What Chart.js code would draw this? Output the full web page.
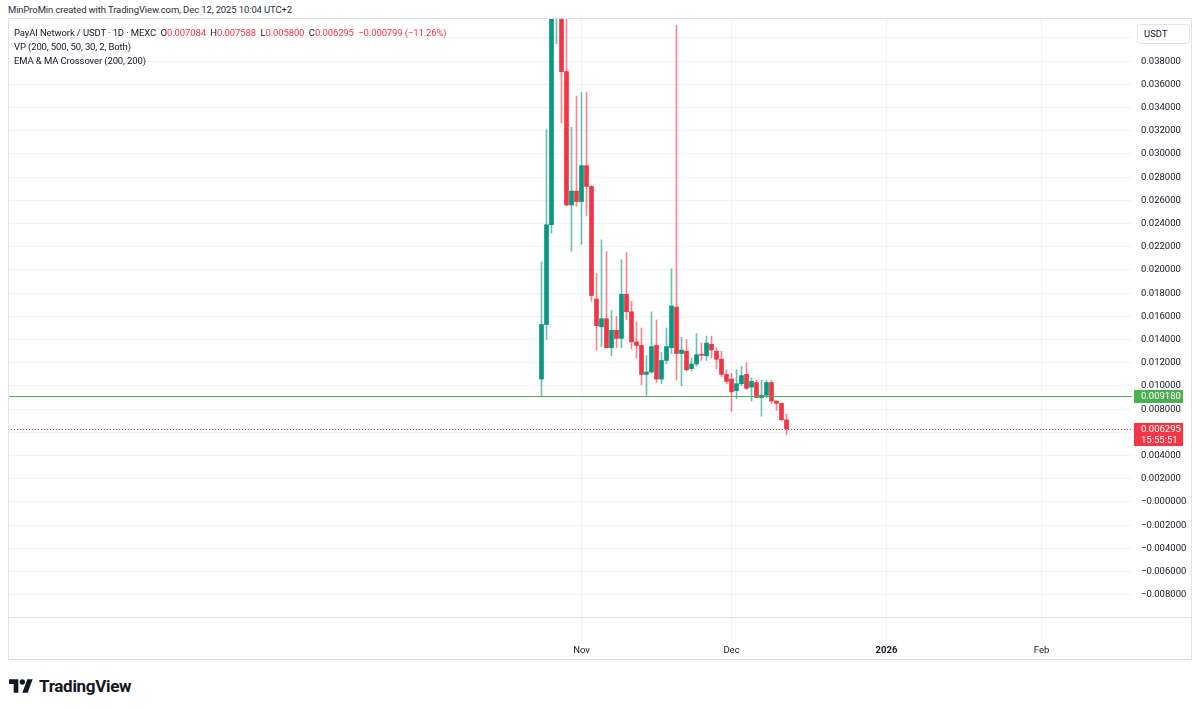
<!DOCTYPE html>
<html>
<head>
<meta charset="utf-8">
<script src="https://cdn.jsdelivr.net/npm/chart.js@4.4.1/dist/chart.umd.min.js"></script>
<style>
	body { margin: 0; background: #fff; width: 1200px; height: 708px; overflow: hidden; font-family: Roboto, 'Noto Sans', sans-serif; color: #131722; }
	#wrap { position: absolute; left: 8px; top: 18px; width: 1184px; height: 642px; }
	.txt { position: absolute; white-space: nowrap; font-size: 9.5px; line-height: 13px; letter-spacing: -0.12px; }
	.red { color: #f23645; }
	#logo { position: absolute; left: 9px; top: 676px; display: flex; align-items: center; }
	#logo span { font-size: 17px; font-weight: 700; margin-left: 6px; letter-spacing: -0.3px; }
</style>
</head>
<body>
<div class="txt" style="left:8px; top:3px; color:#2a2e39;">MinProMin created with TradingView.com, Dec 12, 2025 10:04 UTC+2</div>
<div id="wrap"><canvas id="myChart"></canvas></div>
<div class="txt" style="left:14px; top:26px;">PayAI Network / USDT · 1D · MEXC&nbsp;&nbsp;O<span class="red">0.007084</span>&nbsp;&nbsp;H<span class="red">0.007588</span>&nbsp;&nbsp;L<span class="red">0.005800</span>&nbsp;&nbsp;C<span class="red">0.006295</span>&nbsp;&nbsp;<span class="red">−0.000799 (−11.26%)</span></div>
<div class="txt" style="left:14px; top:40px;">VP (200, 500, 50, 30, 2, Both)</div>
<div class="txt" style="left:14px; top:54px;">EMA &amp; MA Crossover (200, 200)</div>
<div id="logo">
	<svg width="24" height="16" viewBox="0 0 36 24"><path d="M14 22H7V9H0V2h14v20z M28 22h-8l7.5-20h8L28 22z" fill="#131722"/><circle cx="20" cy="6" r="4" fill="#131722"/></svg>
	<span>TradingView</span>
</div>
<script>
// daily candles, PayAI / USDT (values above ~0.0417 run off the top of the chart)
const dates = [
	'2025-10-24', '2025-10-25', '2025-10-26', '2025-10-27', '2025-10-28', '2025-10-29', '2025-10-30', '2025-10-31',
	'2025-11-01', '2025-11-02', '2025-11-03', '2025-11-04', '2025-11-05', '2025-11-06', '2025-11-07', '2025-11-08',
	'2025-11-09', '2025-11-10', '2025-11-11', '2025-11-12', '2025-11-13', '2025-11-14', '2025-11-15', '2025-11-16',
	'2025-11-17', '2025-11-18', '2025-11-19', '2025-11-20', '2025-11-21', '2025-11-22', '2025-11-23', '2025-11-24',
	'2025-11-25', '2025-11-26', '2025-11-27', '2025-11-28', '2025-11-29', '2025-11-30', '2025-12-01', '2025-12-02',
	'2025-12-03', '2025-12-04', '2025-12-05', '2025-12-06', '2025-12-07', '2025-12-08', '2025-12-09', '2025-12-10',
	'2025-12-11', '2025-12-12'
]
const opens = [
	0.0106, 0.0153, 0.0239, 0.0520, 0.0580, 0.0371, 0.0256, 0.0268,
	0.0259, 0.0290, 0.0272, 0.0175, 0.0151, 0.0158, 0.0133, 0.0148,
	0.0141, 0.0179, 0.0164, 0.0138, 0.0135, 0.0110, 0.0112, 0.0135,
	0.0106, 0.0122, 0.0133, 0.0168, 0.0128, 0.0130, 0.0115, 0.0119,
	0.0127, 0.0126, 0.0136, 0.0130, 0.0123, 0.0110, 0.0106, 0.0096,
	0.0102, 0.0110, 0.0099, 0.0103, 0.0090, 0.0092, 0.0103, 0.0087,
	0.0085, 0.007084
]
const highs = [
	0.0207, 0.0321, 0.0600, 0.0750, 0.0620, 0.0460, 0.0323, 0.0350,
	0.0353, 0.0353, 0.0273, 0.0197, 0.0226, 0.0216, 0.0165, 0.0160,
	0.0209, 0.0215, 0.0173, 0.0155, 0.0150, 0.0126, 0.0164, 0.0157,
	0.0129, 0.0150, 0.0201, 0.0411, 0.0142, 0.0140, 0.0124, 0.0145,
	0.0137, 0.0143, 0.0143, 0.0133, 0.0130, 0.0114, 0.0111, 0.0114,
	0.0117, 0.0120, 0.0107, 0.0105, 0.0105, 0.0105, 0.0105, 0.0087,
	0.0085, 0.007588
]
const lows = [
	0.00918, 0.0140, 0.0232, 0.0395, 0.0327, 0.0255, 0.0216, 0.0255,
	0.0222, 0.0247, 0.0173, 0.0131, 0.0134, 0.0133, 0.0126, 0.0133,
	0.0133, 0.0157, 0.0132, 0.0124, 0.0101, 0.0092, 0.0111, 0.0103,
	0.0102, 0.0119, 0.0128, 0.0105, 0.0100, 0.0113, 0.0113, 0.0117,
	0.0122, 0.0122, 0.0124, 0.0115, 0.0108, 0.0102, 0.0078, 0.0089,
	0.0100, 0.0097, 0.0087, 0.0090, 0.0074, 0.0090, 0.0085, 0.0079,
	0.0070, 0.005800
]
const closes = [
	0.0153, 0.0239, 0.0520, 0.0580, 0.0371, 0.0256, 0.0268, 0.0259,
	0.0290, 0.0272, 0.0178, 0.0152, 0.0158, 0.0133, 0.0148, 0.0141,
	0.0179, 0.0164, 0.0138, 0.0135, 0.0110, 0.0112, 0.0134, 0.0106,
	0.0122, 0.0134, 0.0169, 0.0128, 0.0131, 0.0114, 0.0119, 0.0127,
	0.01265, 0.0137, 0.0131, 0.0123, 0.0110, 0.0104, 0.0095, 0.0102,
	0.0109, 0.0098, 0.0104, 0.0090, 0.0092, 0.0103, 0.0087, 0.0085,
	0.007094, 0.006295
]

const supportLevel = 0.009180   // green horizontal line
const lastPrice = 0.006295
const countdown = '15:55:51'

// x axis month ticks, in days from Nov 1 2025
const xTickDays = [0, 30, 61, 92]
const xTickLabels = ['Nov', 'Dec', '2026', 'Feb']

const upColor = '#089981'
const downColor = '#f23645'
const upWick = 'rgba(8, 153, 129, 0.6)'
const downWick = 'rgba(242, 54, 69, 0.6)'
const gridColor = '#f0f3fa'
const frameColor = '#e0e3eb'
const axisFont = '9.5px Roboto, "Noto Sans", sans-serif'

Chart.defaults.font.family = 'Roboto, "Noto Sans", sans-serif'
Chart.defaults.color = '#131722'

const nov1 = Date.UTC(2025, 10, 1)
const dayOf = s => Math.round((Date.parse(s + 'T00:00:00Z') - nov1) / 86400000)

const bodies = dates.map((d, i) => ({ x: dayOf(d), y: [opens[i], closes[i]] }))
const wicks = dates.map((d, i) => ({ x: dayOf(d), y: [lows[i], highs[i]] }))
const isUp = i => closes[i] >= opens[i]

function fmtPrice(v) {
	if (Math.abs(v) < 1e-9) return '−0.000000'
	return v < 0 ? '−' + Math.abs(v).toFixed(6) : v.toFixed(6)
}

// price lines, axis badges and frame
const overlay = {
	id: 'overlay',
	afterDatasetsDraw(chart) {
		const c = chart.ctx
		const a = chart.chartArea
		const y = chart.scales.y
		c.save()
		let ys = Math.round(y.getPixelForValue(supportLevel)) + 0.5
		c.strokeStyle = '#4caf50'
		c.lineWidth = 1
		c.beginPath(); c.moveTo(a.left, ys); c.lineTo(a.right, ys); c.stroke()
		let yl = Math.round(y.getPixelForValue(lastPrice)) + 0.5
		c.strokeStyle = downColor
		c.setLineDash([1, 2])
		c.beginPath(); c.moveTo(a.left, yl); c.lineTo(a.right, yl); c.stroke()
		c.restore()
	},
	afterDraw(chart) {
		const c = chart.ctx
		const a = chart.chartArea
		const y = chart.scales.y
		const W = chart.width, H = chart.height
		c.save()
		// frame + separator
		c.strokeStyle = frameColor
		c.lineWidth = 1
		c.strokeRect(0.5, 0.5, W - 1, H - 1)
		c.beginPath(); c.moveTo(0, a.bottom + 0.5); c.lineTo(W, a.bottom + 0.5); c.stroke()

		c.font = axisFont
		c.textBaseline = 'middle'
		c.textAlign = 'left'
		const bx = a.right + 2, bw = 49
		// green level badge
		let ys = Math.round(y.getPixelForValue(supportLevel))
		c.fillStyle = '#4caf50'
		c.fillRect(bx, ys - 6, bw, 13)
		c.fillStyle = '#fff'
		c.fillText(fmtPrice(supportLevel), bx + 7, ys + 0.5)
		// last price badge
		let yl = Math.round(y.getPixelForValue(lastPrice))
		c.fillStyle = downColor
		c.fillRect(bx, yl - 6, bw, 23)
		c.fillStyle = '#fff'
		c.fillText(fmtPrice(lastPrice), bx + 7, yl + 1)
		c.fillText(countdown, bx + 7, yl + 12)
		// currency box
		c.fillStyle = '#fff'
		c.strokeStyle = frameColor
		c.beginPath()
		c.roundRect(a.right + 5.5, 6.5, 52, 19, 3)
		c.fill(); c.stroke()
		c.fillStyle = '#131722'
		c.fillText('USDT', a.right + 12, 16.5)
		c.restore()
	}
}

const ctx = document.getElementById('myChart')
var chart = new Chart(ctx, {
	type: 'bar',
	data: {
		datasets: [{
			label: 'wicks',
			data: wicks,
			backgroundColor: c => isUp(c.dataIndex) ? upWick : downWick,
			barThickness: 1,
			grouped: false,
			borderSkipped: false
		}, {
			label: 'bodies',
			data: bodies,
			backgroundColor: c => isUp(c.dataIndex) ? upColor : downColor,
			barThickness: 4,
			minBarLength: 1,
			grouped: false,
			borderSkipped: false
		}]
	},
	options: {
		responsive: true,
		maintainAspectRatio: false,
		animation: false,
		layout: { padding: 0 },
		plugins: {
			legend: { display: false },
			tooltip: { enabled: false }
		},
		scales: {
			x: {
				type: 'linear',
				offset: false,
				min: -114.7,
				max: 110.1,
				afterBuildTicks: s => { s.ticks = xTickDays.map(v => ({ value: v })) },
				afterFit: s => { s.height = 43; s.paddingLeft = 0; s.paddingRight = 0 },
				grid: { color: gridColor, offset: false, tickLength: 22, tickColor: gridColor },
				border: { display: false },
				ticks: {
					autoSkip: false,
					maxRotation: 0,
					padding: 6,
					color: '#131722',
					font: c => ({ size: 9.5, weight: c.tick && c.tick.value === 61 ? 'bold' : 'normal' }),
					callback: v => xTickLabels[xTickDays.indexOf(v)]
				}
			},
			y: {
				position: 'right',
				min: -0.009914,
				max: 0.041724,
				afterFit: s => { s.width = 60; s.paddingTop = 0; s.paddingBottom = 0 },
				grid: { color: gridColor, drawTicks: false },
				border: { display: false },
				ticks: {
					stepSize: 0.002,
					includeBounds: false,
					padding: 9,
					color: '#131722',
					font: { size: 9.5 },
					callback: v => fmtPrice(v)
				}
			}
		}
	},
	plugins: [overlay]
})
</script>
</body>
</html>
